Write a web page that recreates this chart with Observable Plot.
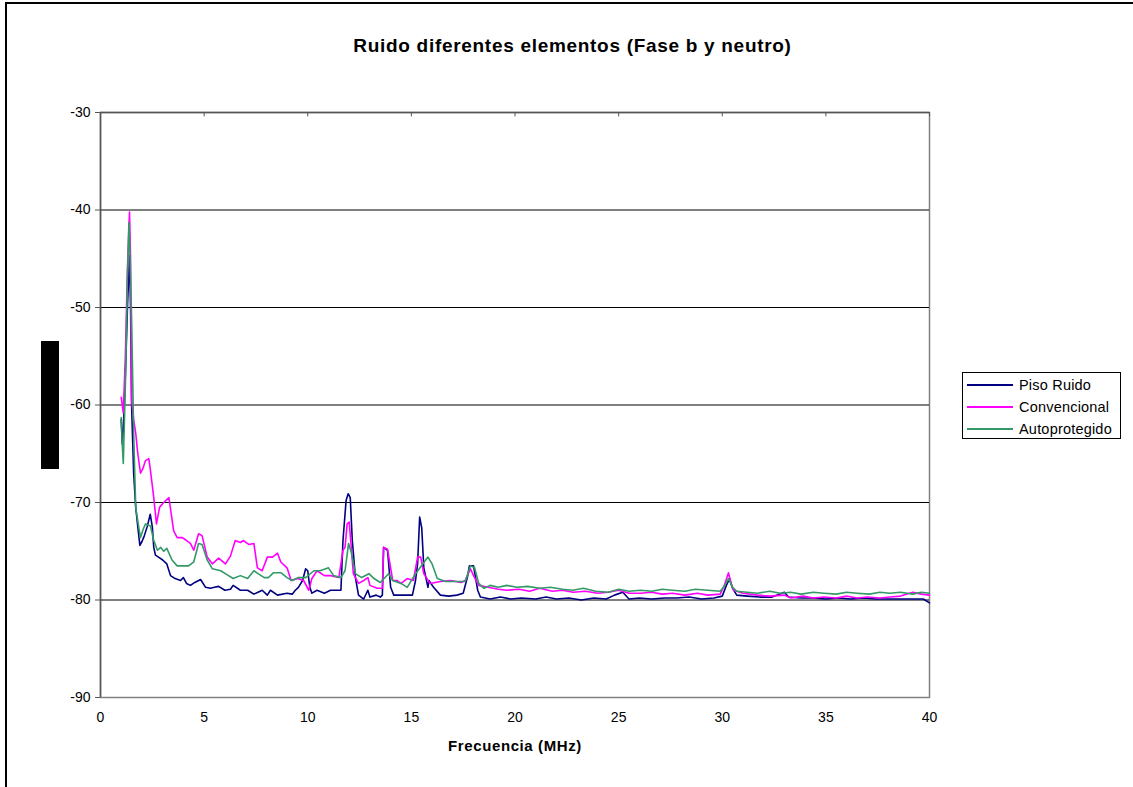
<!DOCTYPE html>
<html>
<head>
<meta charset="utf-8">
<script src="https://cdn.jsdelivr.net/npm/d3@7"></script>
<script src="https://cdn.jsdelivr.net/npm/@observablehq/plot@0.6"></script>
<style>
  body { margin: 0; background: #fff; }
  #wrap { position: relative; width: 1133px; height: 787px; overflow: hidden; font-family: "Liberation Sans", Arial, sans-serif; }
  #chart { position: absolute; left: 0; top: 0; }
  .abs { position: absolute; }
</style>
</head>
<body>
<div id="wrap">
  <div id="chart"></div>
</div>
<script>
const title = "Ruido diferentes elementos (Fase b y neutro)";
const xLabel = "Frecuencia (MHz)";
const seriesNames = ["Piso Ruido", "Convencional", "Autoprotegido"];
const seriesColors = ["#000080", "#FF00FF", "#339966"];
const xTicks = [0, 5, 10, 15, 20, 25, 30, 35, 40];
const yTicks = [-90, -80, -70, -60, -50, -40, -30];

// [frequency MHz, level]
const pisoRuido = [[1.0,-61.5],[1.05,-64.0],[1.1,-62.5],[1.2,-57],[1.3,-50],[1.4,-44.7],[1.45,-50],[1.5,-60],[1.6,-67],[1.7,-70.5],[1.8,-72.5],[1.9,-74.4],[2.0,-74],[2.1,-73.5],[2.25,-72.5],[2.4,-71.2],[2.5,-72.5],[2.57,-74.6],[2.65,-75.4],[2.8,-75.6],[3.0,-75.9],[3.2,-76.3],[3.38,-77.5],[3.6,-77.8],[3.86,-78],[4.0,-77.7],[4.15,-78.3],[4.34,-78.5],[4.55,-78.2],[4.83,-77.9],[5.07,-78.7],[5.3,-78.8],[5.5,-78.7],[5.7,-78.6],[6.0,-79],[6.27,-78.9],[6.4,-78.5],[6.75,-79],[7.1,-79],[7.4,-79.4],[7.6,-79.2],[7.8,-79],[8.05,-79.5],[8.2,-79],[8.54,-79.5],[9.0,-79.3],[9.25,-79.4],[9.4,-79],[9.55,-78.7],[9.75,-78.0],[9.9,-76.8],[10.0,-77],[10.1,-78.7],[10.2,-79.3],[10.45,-79],[10.8,-79.3],[11.1,-79],[11.6,-79],[11.7,-73.9],[11.85,-69.8],[11.95,-69.1],[12.05,-69.5],[12.15,-73.9],[12.3,-77.7],[12.45,-79.5],[12.7,-79.9],[12.9,-79],[13.0,-79.7],[13.3,-79.5],[13.5,-79.7],[13.6,-79.5],[13.66,-74.6],[13.85,-74.9],[14.0,-78.7],[14.15,-79.5],[14.57,-79.5],[15.05,-79.5],[15.2,-78],[15.3,-76.3],[15.4,-71.5],[15.5,-72.6],[15.6,-76.7],[15.8,-78.7],[15.85,-78],[16.07,-78.7],[16.4,-79.5],[16.8,-79.6],[17.2,-79.5],[17.5,-79.3],[17.7,-77.7],[17.8,-76.5],[18.0,-76.5],[18.2,-79],[18.33,-79.7],[18.8,-79.9],[19.3,-79.7],[19.8,-79.9],[20.3,-79.8],[21,-79.9],[21.5,-79.7],[22,-79.9],[22.6,-79.8],[23.2,-80],[23.8,-79.8],[24.4,-79.9],[24.8,-79.5],[25.2,-79.2],[25.5,-79.9],[26,-79.8],[26.6,-79.9],[27.2,-79.8],[27.8,-79.8],[28.4,-79.7],[29,-79.9],[29.6,-79.8],[30.0,-79.6],[30.2,-78.5],[30.35,-77.8],[30.5,-78.8],[30.7,-79.5],[31.2,-79.6],[31.8,-79.7],[32.4,-79.7],[33.0,-79.2],[33.2,-79.7],[33.8,-79.8],[34.4,-79.8],[35,-79.9],[35.6,-79.8],[36.2,-79.9],[36.8,-79.8],[37.4,-79.9],[38,-79.9],[38.6,-79.9],[39.2,-79.9],[39.7,-79.9],[40,-80.3]];

const convencional = [[1.0,-59.2],[1.05,-60.0],[1.1,-60.8],[1.2,-55],[1.3,-46],[1.4,-40.2],[1.45,-45],[1.5,-59.5],[1.6,-61.5],[1.7,-62.9],[1.8,-65],[1.93,-67],[2.05,-66.5],[2.17,-65.7],[2.33,-65.5],[2.41,-66.7],[2.57,-69.5],[2.7,-72.2],[2.85,-70.5],[3.05,-70],[3.3,-69.5],[3.53,-72.9],[3.7,-73.6],[3.95,-73.6],[4.15,-73.9],[4.34,-74.2],[4.5,-74.9],[4.73,-73.2],[4.9,-73.4],[5.15,-75.6],[5.4,-76.3],[5.7,-75.7],[6.03,-76.3],[6.27,-75.5],[6.5,-73.9],[6.75,-74.1],[6.9,-73.9],[7.15,-74.3],[7.4,-74.2],[7.57,-76.7],[7.8,-77],[8.05,-75.6],[8.3,-75.6],[8.54,-75.2],[8.7,-76.1],[9.0,-76.7],[9.2,-78],[9.5,-77.8],[9.8,-78],[10.05,-79],[10.2,-77.8],[10.45,-77],[10.8,-77.5],[11.1,-77.5],[11.5,-77.7],[11.7,-74.9],[11.8,-74.6],[11.9,-72.2],[12.0,-72.0],[12.1,-74.6],[12.2,-77.3],[12.45,-78.3],[12.7,-78.0],[12.9,-77.7],[13.0,-78.5],[13.35,-78.8],[13.6,-78.8],[13.66,-74.6],[13.85,-74.8],[14.1,-78],[14.3,-78],[14.5,-78.3],[14.8,-77.8],[15.1,-78],[15.3,-75.6],[15.45,-75.6],[15.6,-77.3],[15.9,-78.3],[16.4,-78.1],[16.9,-78],[17.4,-78.2],[17.6,-78],[17.85,-76.8],[18.0,-77.5],[18.25,-78.5],[18.7,-78.7],[19.2,-78.9],[19.6,-79],[20.2,-78.9],[20.7,-79.1],[21.2,-78.8],[21.8,-79.1],[22.3,-79.0],[22.8,-79.2],[23.4,-79.1],[24.0,-79.3],[24.5,-79.2],[25.0,-79.0],[25.5,-79.3],[26.05,-79.3],[26.6,-79.2],[27.1,-79.4],[27.6,-79.3],[28.2,-79.5],[28.8,-79.3],[29.3,-79.5],[29.9,-79.4],[30.1,-78.5],[30.3,-77.2],[30.45,-78.5],[30.55,-79],[31.0,-79.3],[31.7,-79.5],[32.3,-79.6],[33.0,-79.5],[33.3,-79.8],[33.9,-79.6],[34.4,-79.8],[34.9,-79.7],[35.5,-79.8],[36.0,-79.6],[36.5,-79.8],[37.0,-79.7],[37.6,-79.8],[38.1,-79.7],[38.6,-79.6],[39.2,-79.2],[39.6,-79.4],[40,-79.5]];

const autoprotegido = [[1.0,-61.3],[1.05,-64],[1.1,-66],[1.2,-58],[1.3,-47],[1.37,-41.3],[1.43,-45],[1.5,-51],[1.6,-62.9],[1.7,-70.5],[1.85,-72.6],[1.93,-73.6],[2.05,-72.8],[2.17,-72.2],[2.41,-72.4],[2.57,-73.9],[2.75,-74.9],[2.9,-74.6],[3.05,-75],[3.2,-74.7],[3.45,-75.9],[3.7,-76.5],[3.95,-76.5],[4.25,-76.5],[4.5,-76.1],[4.73,-74.2],[4.9,-74.3],[5.15,-75.9],[5.4,-76.8],[5.8,-77],[6.1,-77.4],[6.4,-77.8],[6.75,-77.5],[7.1,-77.8],[7.4,-77],[7.6,-77.3],[7.9,-77.7],[8.1,-77.7],[8.35,-77.2],[8.7,-77.2],[9.0,-77.7],[9.25,-78],[9.55,-77.7],[9.9,-77.7],[10.3,-77],[10.6,-77],[11.0,-76.7],[11.25,-77.5],[11.6,-77.7],[11.8,-77],[11.97,-74.2],[12.1,-75.1],[12.3,-77.3],[12.6,-77.7],[12.95,-77.3],[13.2,-77.8],[13.5,-78.2],[13.9,-77.3],[14.1,-78],[14.5,-78.3],[14.8,-78.7],[15.2,-77.3],[15.55,-76.3],[15.8,-75.6],[16.0,-76.3],[16.25,-77.8],[16.65,-78.1],[17.2,-78.1],[17.6,-78.1],[17.85,-76.5],[18.05,-76.7],[18.25,-78.3],[18.5,-78.8],[18.8,-78.5],[19.2,-78.7],[19.6,-78.5],[20.1,-78.7],[20.6,-78.6],[21.2,-78.8],[21.7,-78.7],[22.3,-78.9],[22.8,-79],[23.3,-78.8],[23.9,-79.1],[24.5,-79.2],[25.0,-78.9],[25.5,-79.1],[26.05,-79],[26.6,-79.1],[27.1,-78.9],[27.6,-79],[28.2,-79.1],[28.7,-78.9],[29.3,-79],[29.9,-79.1],[30.1,-78.6],[30.3,-77.8],[30.5,-78.7],[30.7,-79.1],[31.2,-79.2],[31.7,-79.3],[32.3,-79.1],[32.8,-79.3],[33.3,-79.2],[33.8,-79.4],[34.4,-79.2],[34.9,-79.3],[35.5,-79.4],[36.0,-79.2],[36.5,-79.3],[37.1,-79.4],[37.6,-79.2],[38.1,-79.3],[38.6,-79.2],[39.2,-79.4],[39.6,-79.2],[40,-79.3]];

const seriesData = [pisoRuido, convencional, autoprotegido];
const rows = seriesData.flatMap((arr, i) => arr.map(([f, v]) => ({f, v, s: seriesNames[i]})));

const chart = Plot.plot({
  width: 1133,
  height: 787,
  marginLeft: 100,
  marginRight: 204,
  marginTop: 112,
  marginBottom: 90,
  style: {fontFamily: "'Liberation Sans', Arial, sans-serif", fontSize: "14px", color: "#000", background: "transparent"},
  x: {domain: [0, 40]},
  y: {domain: [-90, -30]},
  color: {domain: seriesNames, range: seriesColors},
  marks: [
    Plot.frame({stroke: "#808080", strokeWidth: 1.5}),
    Plot.ruleY(yTicks.filter(d => d > -90), {stroke: d => d === -30 ? "#555" : "#000", strokeWidth: d => d === -30 ? 1.5 : 1}),
    Plot.ruleX([0], {stroke: "#555", strokeWidth: 1.5}),
    Plot.ruleX(xTicks, {x: d => d, y1: -30, y2: -30.45, stroke: "#555"}),
    Plot.line(rows, {x: "f", y: "v", z: "s", stroke: "s", strokeWidth: 1.6, curve: "linear"}),
    Plot.axisY({ticks: yTicks, tickSize: 5, tickPadding: 5, label: null, stroke: "#555", fontSize: 14, tickFormat: d => String(d)}),
    Plot.axisX({ticks: xTicks, tickSize: 0, tickPadding: 15, label: null, fontSize: 14, tickFormat: d => String(d)})
  ]
});
document.getElementById("chart").appendChild(chart);

const wrap = document.getElementById("wrap");
function addDiv(css, text) {
  const d = document.createElement("div");
  d.className = "abs";
  d.style.cssText = css;
  if (text) d.textContent = text;
  wrap.appendChild(d);
  return d;
}
// figure border (left and top)
addDiv("left:5px;top:2px;width:2px;height:785px;background:#000;");
addDiv("left:5px;top:2px;width:1128px;height:2px;background:#000;");
// title
addDiv("left:0;top:35px;width:1145px;text-align:center;font-weight:bold;font-size:19px;letter-spacing:0.7px;", title);
// x label
addDiv("left:0;top:737px;width:1030px;text-align:center;font-weight:bold;font-size:15px;letter-spacing:0.6px;", xLabel);
// redacted y label block
addDiv("left:41px;top:341px;width:18px;height:128px;background:#000;");
// legend
const lg = addDiv("left:962px;top:372px;width:159px;height:67px;border:1px solid #000;box-sizing:border-box;background:#fff;");
seriesNames.forEach((name, i) => {
  const row = document.createElement("div");
  row.style.cssText = `position:absolute;left:4px;top:${2 + i * 22}px;height:20px;display:flex;align-items:center;font-size:14.5px;letter-spacing:0.2px;`;
  const line = document.createElement("div");
  line.style.cssText = `width:46px;height:2px;background:${seriesColors[i]};margin-right:6px;`;
  const t = document.createElement("span");
  t.textContent = name;
  row.appendChild(line);
  row.appendChild(t);
  lg.appendChild(row);
});
</script>
</body>
</html>
